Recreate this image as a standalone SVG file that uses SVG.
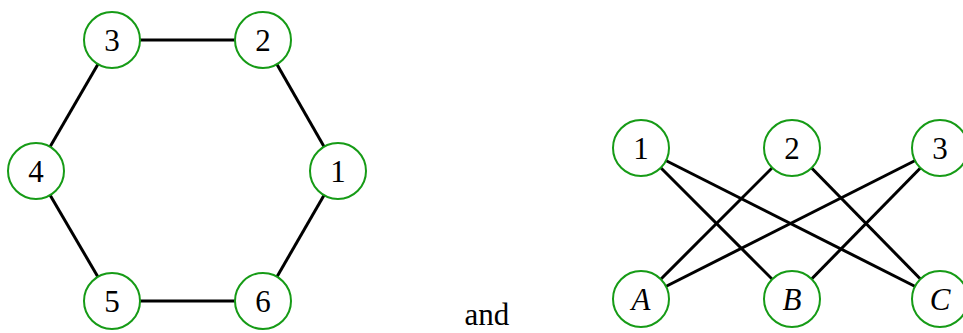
<svg xmlns="http://www.w3.org/2000/svg" width="963" height="333" viewBox="0 0 963 333">
<style>
.n circle{fill:#fff;stroke:#169b16;stroke-width:2}
.n text{font-family:"Liberation Serif","DejaVu Serif",serif;font-size:31px;fill:#000;text-anchor:middle}
.i text{font-style:italic}
#edges line{stroke:#000;stroke-width:3}
.lbl{font-family:"Liberation Serif","DejaVu Serif",serif;font-size:31px;fill:#000;text-anchor:middle}
</style>
<rect width="963" height="333" fill="#fff"/>
<g id="edges">
<line x1="112" y1="40" x2="263" y2="40"/>
<line x1="263" y1="40" x2="338" y2="171"/>
<line x1="338" y1="171" x2="263" y2="301"/>
<line x1="263" y1="301" x2="112" y2="301"/>
<line x1="112" y1="301" x2="36" y2="171"/>
<line x1="36" y1="171" x2="112" y2="40"/>
<line x1="641" y1="148" x2="792" y2="299"/>
<line x1="641" y1="148" x2="940" y2="299"/>
<line x1="792" y1="148" x2="641" y2="299"/>
<line x1="792" y1="148" x2="940" y2="299"/>
<line x1="940" y1="148" x2="641" y2="299"/>
<line x1="940" y1="148" x2="792" y2="299"/>
</g>
<g id="h1" class="n"><circle cx="338" cy="171" r="28"/><text x="338" y="182">1</text></g>
<g id="h2" class="n"><circle cx="263" cy="40" r="28"/><text x="263" y="51">2</text></g>
<g id="h3" class="n"><circle cx="112" cy="40" r="28"/><text x="112" y="51">3</text></g>
<g id="h4" class="n"><circle cx="36" cy="171" r="28"/><text x="36" y="182">4</text></g>
<g id="h5" class="n"><circle cx="112" cy="301" r="28"/><text x="112" y="312">5</text></g>
<g id="h6" class="n"><circle cx="263" cy="301" r="28"/><text x="263" y="312">6</text></g>
<g id="b1" class="n"><circle cx="641" cy="148" r="28"/><text x="641" y="159">1</text></g>
<g id="b2" class="n"><circle cx="792" cy="148" r="28"/><text x="792" y="159">2</text></g>
<g id="b3" class="n"><circle cx="940" cy="148" r="28"/><text x="940" y="159">3</text></g>
<g id="bA" class="n i"><circle cx="641" cy="299" r="28"/><text x="641" y="310">A</text></g>
<g id="bB" class="n i"><circle cx="792" cy="299" r="28"/><text x="792" y="310">B</text></g>
<g id="bC" class="n i"><circle cx="940" cy="299" r="28"/><text x="940" y="310">C</text></g>
<text class="lbl" x="487" y="325">and</text>
</svg>
